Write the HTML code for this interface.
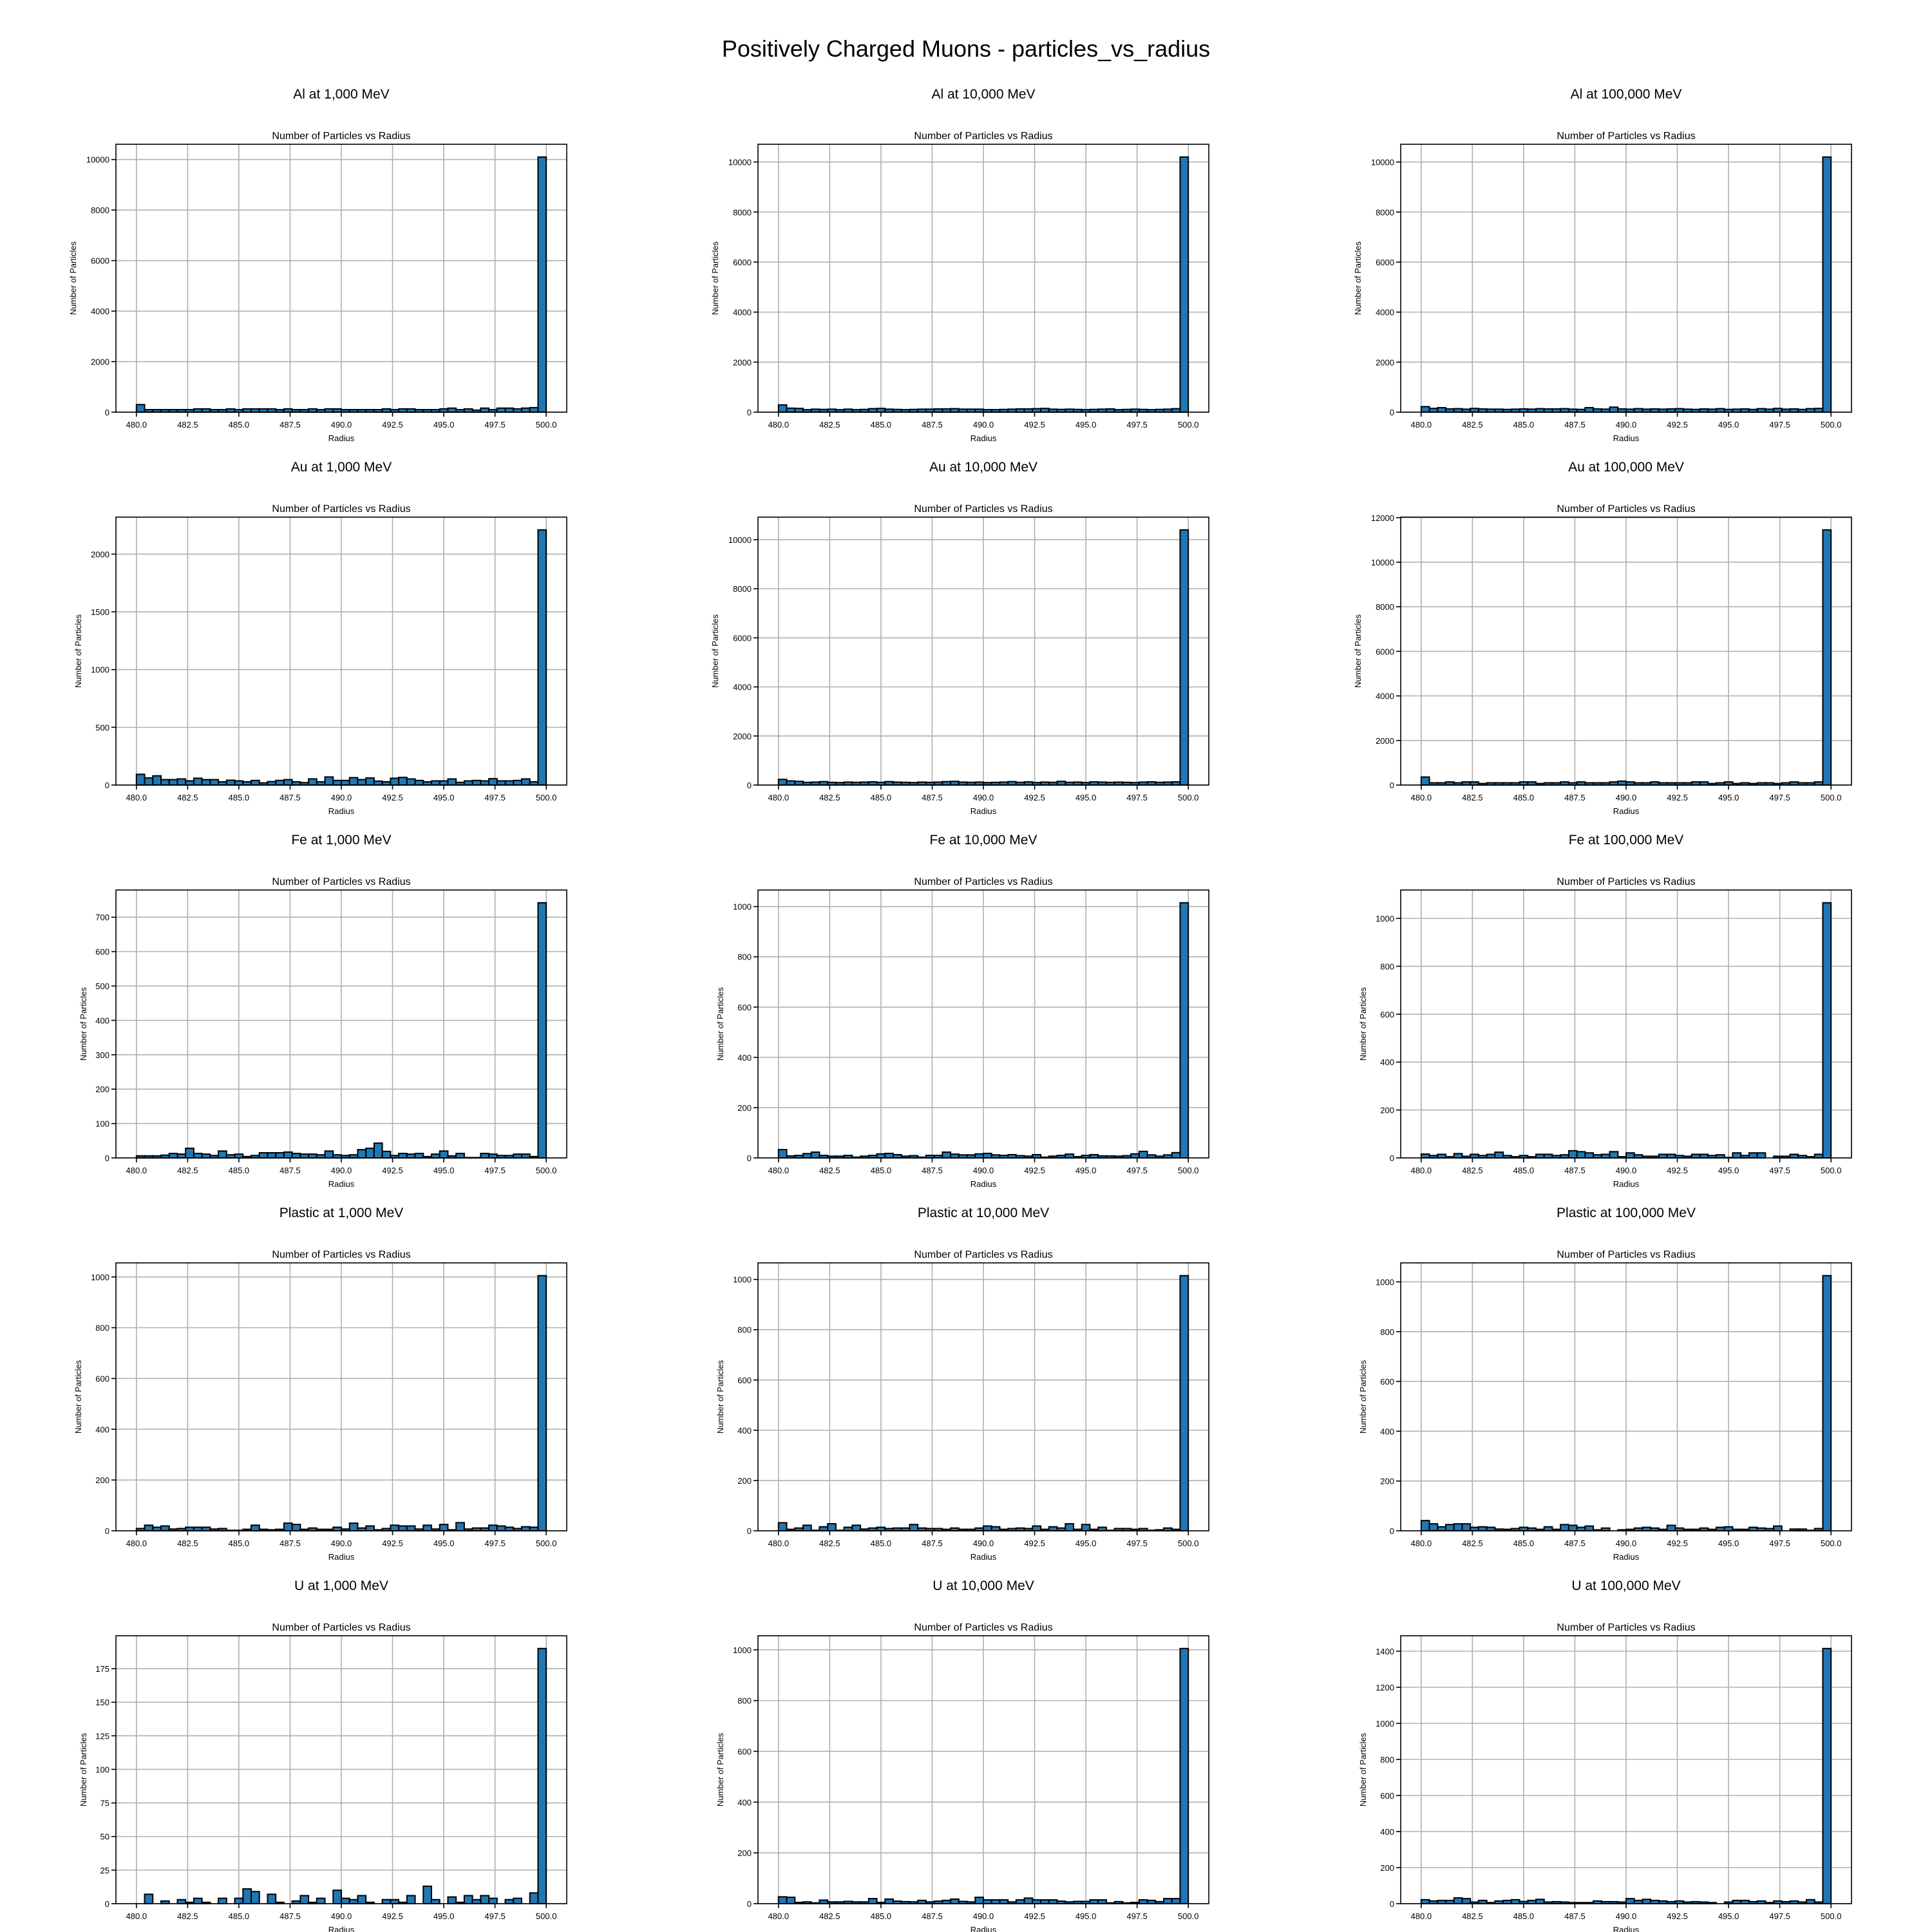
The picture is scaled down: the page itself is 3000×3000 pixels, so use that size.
<!DOCTYPE html>
<html><head><meta charset="utf-8">
<style>
html,body{margin:0;padding:0;background:#fff;}
svg{display:block;font-family:"Liberation Sans","DejaVu Sans",sans-serif;}
</style></head>
<body>
<svg id="fig" xmlns="http://www.w3.org/2000/svg" width="3000" height="3000" viewBox="0 0 3000 3000">
<rect x="0" y="0" width="3000" height="3000" fill="#fff"/>
<text x="1500" y="88" font-size="36" text-anchor="middle" fill="#000">Positively Charged Muons - particles_vs_radius</text>
<g id="plots"></g>
</svg>
<script>
const materials = ["Al","Au","Fe","Plastic","U"];
const energies = ["1,000","10,000","100,000"];
const binStart = 480;
const binWidth = 0.4;
const xTicks = [480.0,482.5,485.0,487.5,490.0,492.5,495.0,497.5,500.0];
const tickSteps = [2000,2000,2000, 500,2000,2000, 100,200,200, 200,200,200, 25,200,200];

const al1k = [300,100,100,100,100,100,100,130,130,100,100,130,100,130,130,130,130,100,130,100,100,130,100,130,130,100,100,100,100,100,130,100,130,130,100,100,100,130,160,100,130,80,160,100,160,160,130,160,180,10100];
const al10k = [290,160,150,100,120,110,120,100,120,100,110,140,150,120,110,100,110,120,120,130,130,140,120,120,120,100,100,110,120,130,130,140,150,120,110,120,110,100,110,120,130,100,110,120,110,100,110,120,140,10200];
const al100k = [220,150,180,130,140,120,150,130,120,120,110,120,130,120,140,130,130,140,120,110,180,130,120,200,130,120,140,120,130,120,130,140,120,110,130,120,140,110,120,130,110,140,120,150,120,130,110,140,150,10200];
const au1k = [93,62,80,47,47,53,36,59,47,47,28,42,36,28,40,19,30,40,47,28,21,53,28,70,40,40,64,47,61,34,28,59,66,53,40,28,36,36,53,23,36,40,36,55,36,36,40,53,28,2210];
const au10k = [230,170,150,110,120,140,110,100,120,110,120,130,110,140,120,110,100,120,110,120,140,150,120,110,120,100,110,120,140,110,130,100,120,110,150,110,120,100,130,120,110,120,110,100,120,130,110,120,130,10400];
const au100k = [360,100,100,140,100,140,140,70,100,100,100,100,140,140,70,100,100,140,100,140,100,100,100,140,175,140,100,100,140,100,100,100,100,140,140,70,100,140,70,100,70,100,100,70,100,140,100,100,140,11450];
const fe1k = [6,6,6,8,13,11,28,13,11,7,20,9,11,4,7,15,15,15,17,13,11,11,9,20,9,7,9,24,28,43,19,7,13,11,13,4,11,20,6,13,1,1,13,11,7,7,11,11,4,742];
const fe10k = [33,8,10,17,23,10,7,7,10,3,7,10,16,18,13,7,9,3,10,10,23,15,12,12,16,18,12,10,13,9,7,13,3,7,10,15,5,10,13,8,8,7,9,16,26,12,7,12,21,1015];
const fe100k = [16,10,15,5,18,7,15,10,15,24,10,5,10,5,15,15,10,13,30,26,21,13,15,26,5,21,13,7,7,15,15,10,7,15,15,10,13,2,21,10,21,21,0,7,7,15,10,5,15,1065];
const pl1k = [9,22,14,19,7,9,14,14,14,7,9,2,2,6,22,6,4,6,30,25,6,11,6,6,14,7,30,11,19,4,9,22,19,19,7,22,7,25,4,32,7,11,11,22,19,14,9,16,14,1005];
const pl10k = [32,6,11,22,2,16,28,2,14,22,7,11,14,9,11,11,25,11,9,9,6,11,6,6,11,19,16,6,9,11,9,19,6,16,11,28,6,25,6,14,2,9,9,6,9,2,4,11,6,1015];
const pl100k = [41,28,16,25,28,28,14,16,14,7,6,9,14,11,6,16,6,25,22,14,19,4,11,0,4,6,11,14,11,6,22,11,6,6,11,6,14,16,6,6,14,11,9,19,0,7,7,2,9,1025];
const u1k = [0,7,0,2,0,3,1,4,1,0,4,0,4,11,9,0,7,1,0,2,6,1,4,0,10,4,3,6,1,0,3,3,1,6,0,13,3,0,5,1,6,3,6,4,0,3,4,0,8,190];
const u10k = [27,25,5,7,3,14,7,7,9,7,7,20,5,18,10,8,7,13,7,10,13,18,9,7,25,15,15,15,7,15,22,15,15,15,10,7,9,9,15,15,3,8,3,5,15,13,8,20,20,1005];
const u100k = [22,15,18,18,32,28,9,18,6,15,18,22,12,18,24,9,11,9,6,6,6,15,11,11,9,28,18,24,18,15,11,15,9,11,9,6,0,9,18,18,11,15,6,15,11,15,9,22,9,1415];

const allSeries = [al1k,al10k,al100k,au1k,au10k,au100k,fe1k,fe10k,fe100k,pl1k,pl10k,pl100k,u1k,u10k,u100k];

const NS = "http://www.w3.org/2000/svg";
const root = document.getElementById("plots");
const colX = [180,1177,2175];
const rowY = [224,803,1382,1961,2540];
const AW = 700, AH = 416;

function mk(tag, attrs, parent){
  const e = document.createElementNS(NS, tag);
  for (const k in attrs) e.setAttribute(k, attrs[k]);
  parent.appendChild(e);
  return e;
}
function fmtY(v){ return String(v); }

for (let r = 0; r < 5; r++) {
  for (let c = 0; c < 3; c++) {
    const idx = r*3 + c;
    const data = allSeries[idx];
    const step = tickSteps[idx];
    const L = colX[c], T = rowY[r];
    const g = mk("g", {}, root);
    
    

    const xmin = binStart - 1, xmax = binStart + binWidth*data.length + 1;
    const ymax = Math.max(...data) * 1.05;
    const xs = v => L + (v - xmin) / (xmax - xmin) * AW;
    const ys = v => T + AH - v / ymax * AH;

    const st = mk("text", {x: L + AW/2, y: T - 71, "font-size": 21, "text-anchor": "middle", fill: "#000"}, g);
    st.textContent = materials[r] + " at " + energies[c] + " MeV";
    
    

    const at = mk("text", {x: L + AW/2, y: T - 8, "font-size": 16, "text-anchor": "middle", fill: "#000"}, g);
    at.textContent = "Number of Particles vs Radius";
    
    

    // grid
    for (const t of xTicks) {
      const gl = mk("line", {x1: xs(t), x2: xs(t), y1: T, y2: T+AH, stroke: "#b0b0b0", "stroke-width": 1.6}, g);
      
      
    }
    const yTicks = [];
    for (let v = 0; v <= ymax; v += step) yTicks.push(v);
    for (const t of yTicks) {
      const gl = mk("line", {x1: L, x2: L+AW, y1: ys(t), y2: ys(t), stroke: "#b0b0b0", "stroke-width": 1.6}, g);
      
      
    }

    // bars
    for (let i = 0; i < data.length; i++) {
      const x0 = xs(binStart + i*binWidth), x1 = xs(binStart + (i+1)*binWidth);
      const y0 = ys(data[i]);
      const b = mk("rect", {x: x0, y: y0, width: x1-x0, height: T+AH-y0, fill: "#1f77b4", stroke: "#000", "stroke-width": 2}, g);
      
      
    }

    // spines
    const sp = mk("rect", {x: L, y: T, width: AW, height: AH, fill: "none", stroke: "#000", "stroke-width": 1.6}, g);
    
    

    // x ticks
    for (const t of xTicks) {
      mk("line", {x1: xs(t), x2: xs(t), y1: T+AH, y2: T+AH+7, stroke: "#000", "stroke-width": 1.6}, g);
      const tl = mk("text", {x: xs(t), y: T+AH+24, "font-size": 13, "text-anchor": "middle", fill: "#000"}, g);
      tl.textContent = t.toFixed(1);
      
      
    }
    for (const t of yTicks) {
      mk("line", {x1: L-7, x2: L, y1: ys(t), y2: ys(t), stroke: "#000", "stroke-width": 1.6}, g);
      const tl = mk("text", {x: L-10, y: ys(t)+5, "font-size": 13, "text-anchor": "end", fill: "#000"}, g);
      tl.textContent = fmtY(t);
      
      
    }

    const xl = mk("text", {x: L + AW/2, y: T+AH+45, "font-size": 13, "text-anchor": "middle", fill: "#000"}, g);
    xl.textContent = "Radius";
    
    

    const maxLab = Math.max(...yTicks).toString().length;
    const yx = L - 22 - maxLab*8;
    const yl = mk("text", {x: yx, y: T + AH/2, "font-size": 13, "text-anchor": "middle", fill: "#000", transform: "rotate(-90 " + yx + " " + (T+AH/2) + ")"}, g);
    yl.textContent = "Number of Particles";
    
    
  }
}
</script>
</body></html>
